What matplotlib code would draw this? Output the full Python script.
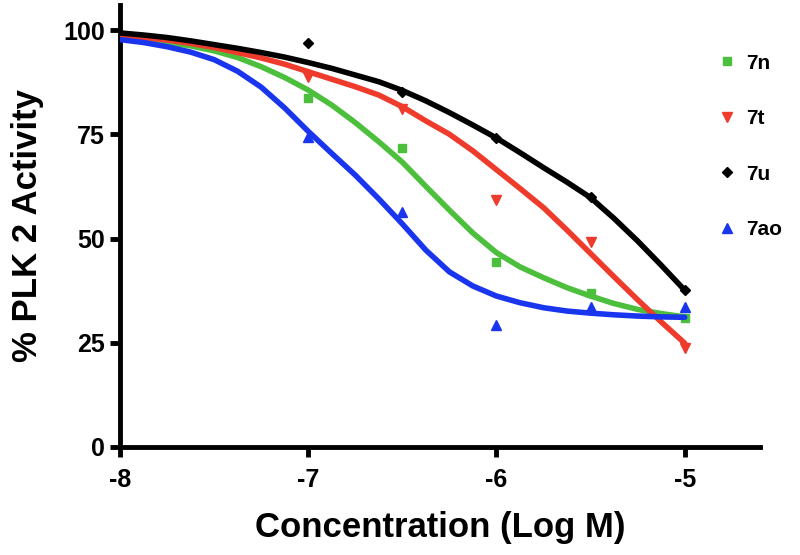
import matplotlib
matplotlib.use("Agg")
import matplotlib.pyplot as plt

# Measured data points (log M, % activity)
conc = [-7.0, -6.5, -6.0, -5.5, -5.0]
act_7n = [83.7, 71.7, 44.4, 36.9, 30.9]
act_7t = [88.7, 81.0, 59.2, 49.2, 23.7]
act_7u = [97.0, 85.2, 74.1, 60.0, 37.6]
act_7ao = [74.3, 56.4, 29.3, 33.6, 33.6]

# Fitted curves
curve_x = [-8.0, -7.875, -7.75, -7.625, -7.5, -7.375, -7.25, -7.125, -7.0,
           -6.875, -6.75, -6.625, -6.5, -6.375, -6.25, -6.125, -6.0,
           -5.875, -5.75, -5.625, -5.5, -5.375, -5.25, -5.125, -5.0]
curve_7n = [98.0, 97.6, 97.0, 96.2, 95.0, 93.4, 91.2, 88.6, 85.6,
            82.0, 77.8, 73.2, 68.3, 62.5, 56.8, 51.3, 46.6,
            43.2, 40.6, 38.2, 36.2, 34.4, 33.0, 32.0, 31.2]
curve_7t = [98.6, 98.2, 97.6, 96.8, 95.8, 94.6, 93.3, 91.8, 90.0,
            88.2, 86.4, 84.4, 81.6, 78.2, 75.0, 71.0, 66.5,
            62.0, 57.4, 52.0, 46.4, 40.8, 35.3, 30.0, 24.9]
curve_7u = [99.3, 98.8, 98.2, 97.4, 96.5, 95.6, 94.6, 93.5, 92.2,
            90.8, 89.2, 87.6, 85.5, 83.0, 80.2, 77.2, 74.1,
            70.6, 67.0, 63.5, 59.8, 54.8, 49.4, 43.6, 37.6]
curve_7ao = [97.7, 97.0, 96.0, 94.7, 92.9, 90.1, 86.3, 81.3, 75.7,
             70.4, 65.2, 59.5, 53.5, 47.2, 42.0, 38.6, 36.2,
             34.6, 33.4, 32.6, 32.1, 31.7, 31.4, 31.2, 31.1]

labels = ["7n", "7t", "7u", "7ao"]
colors = ["#4cbf3c", "#ee3b2b", "#000000", "#1a35ee"]
markers = ["s", "v", "D", "^"]
msizes = [6, 7, 5, 7]

xticks = [-8, -7, -6, -5]
yticks = [0, 25, 50, 75, 100]

plt.rcParams['font.family'] = ['Liberation Sans', 'DejaVu Sans']
plt.rcParams['font.weight'] = 'bold'

fig = plt.figure(figsize=(8, 5.55), dpi=100)
ax = fig.add_axes([0.15, 0.1946, 0.80, 0.7964])

curves = [curve_7n, curve_7t, curve_7u, curve_7ao]
points = [act_7n, act_7t, act_7u, act_7ao]
handles = []
for lab, col, mk, ms, cy, py in zip(labels, colors, markers, msizes, curves, points):
    ax.plot(curve_x, cy, color=col, lw=4.0, solid_capstyle='round', solid_joinstyle='round', zorder=3)
    h, = ax.plot(conc, py, linestyle='none', marker=mk, color=col, ms=ms, zorder=2, label=lab)
    handles.append(h)

ax.set_xlim(-8, -4.6)
ax.set_ylim(0, 106)
ax.set_xticks(xticks)
ax.set_xticklabels([str(t) for t in xticks])
ax.set_yticks(yticks)
ax.set_yticklabels([str(t) for t in yticks])

for side in ['top', 'right']:
    ax.spines[side].set_visible(False)
for side in ['left', 'bottom']:
    ax.spines[side].set_linewidth(3.5)
ax.tick_params(axis='both', direction='out', length=7, width=3.5, labelsize=18)
ax.tick_params(axis='x', pad=8)
ax.tick_params(axis='y', pad=4)
for lbl in ax.get_xticklabels() + ax.get_yticklabels():
    lbl.set_fontweight('bold')

ax.set_xlabel("Concentration (Log M)", fontsize=25, fontweight='bold', labelpad=14)
ax.set_ylabel("% PLK 2 Activity", fontsize=25, fontweight='bold', labelpad=14)

leg = fig.legend(handles=handles, labels=labels, loc='upper left',
                 bbox_to_anchor=(0.875, 0.937), frameon=False, numpoints=1,
                 handlelength=0.8, handletextpad=0.5, labelspacing=1.75,
                 prop={'family': 'Liberation Sans', 'weight': 'bold', 'size': 15})

fig.savefig("out.png", dpi=100)
